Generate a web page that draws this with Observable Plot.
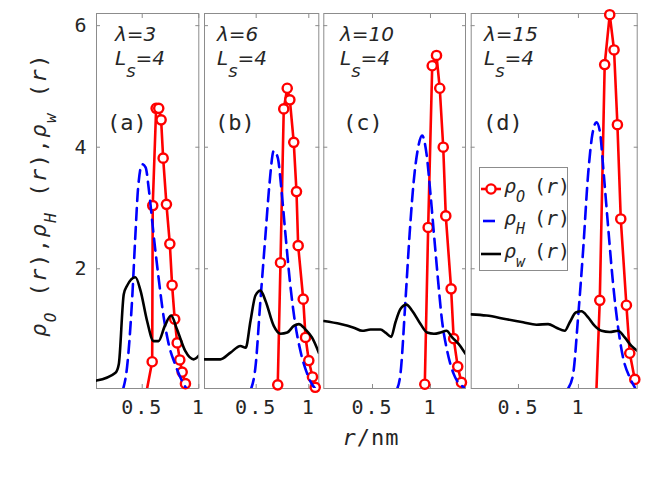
<!DOCTYPE html>
<html><head><meta charset="utf-8">
<script src="https://cdn.jsdelivr.net/npm/d3@7"></script>
<script src="https://cdn.jsdelivr.net/npm/@observablehq/plot@0.6"></script>
<style>
body{margin:0;background:#fff;}
#chart{position:relative;width:656px;height:490px;overflow:hidden;background:#fff;}
#chart svg{position:absolute;left:0;top:0;}
</style></head><body><div id="chart"></div>
<script>
// ---- data ----
const lambdaLabels = ["3", "6", "10", "15"];
const lsLabel = "4";
const panelTags = ["(a)", "(b)", "(c)", "(d)"];
const xTicks = [0.5, 1];
const yTicks = [2, 4, 6];
const yLimits = [0.03, 6.2];
const xLimits = [[0.096, 1.0], [0.009, 1.095], [0.08, 1.302], [0.106, 1.49]];

const rhoO_a = [[0.54,0],[0.588,0.47],[0.593,3.04],[0.623,4.64],[0.646,4.64],[0.667,4.45],[0.685,3.82],[0.714,3.06],[0.744,2.41],[0.764,1.73],[0.787,1.17],[0.809,0.78],[0.832,0.50],[0.853,0.30],[0.882,0.11]];
const rhoH_a = [[0.328,0],[0.366,0.38],[0.41,1.47],[0.44,2.57],[0.464,3.34],[0.5,3.72],[0.53,3.67],[0.56,3.28],[0.60,2.57],[0.644,1.86],[0.69,1.2],[0.734,0.76],[0.79,0.43],[0.85,0.16],[0.89,0.03]];
const rhoW_a = [[0.096,0.16],[0.264,0.29],[0.293,0.43],[0.337,1.58],[0.366,1.72],[0.44,1.86],[0.485,1.64],[0.543,1.14],[0.60,0.81],[0.644,0.81],[0.70,1.06],[0.755,1.23],[0.808,1.0],[0.88,0.65],[0.955,0.51],[1.0,0.57]];

const rhoO_b = [[0.705,0.09],[0.731,2.10],[0.762,4.63],[0.795,4.97],[0.82,4.78],[0.857,4.08],[0.883,3.27],[0.899,2.38],[0.947,1.50],[0.969,0.87],[1.0,0.49],[1.035,0.22],[1.061,0.05]];
const rhoH_b = [[0.446,0],[0.493,0.38],[0.54,1.47],[0.589,2.57],[0.626,3.39],[0.667,3.94],[0.705,3.83],[0.738,3.34],[0.778,2.57],[0.82,1.8],[0.867,1.14],[0.92,0.65],[0.985,0.27],[1.03,0.1],[1.06,0.03]];
const rhoW_b = [[0.009,0.51],[0.16,0.51],[0.256,0.62],[0.35,0.73],[0.40,0.70],[0.446,1.14],[0.493,1.56],[0.541,1.64],[0.589,1.47],[0.667,1.06],[0.731,0.93],[0.795,0.95],[0.857,1.06],[0.905,1.09],[0.969,1.0],[1.03,0.87],[1.095,0.62]];

const rhoO_c = [[0.951,0.10],[0.98,2.68],[1.015,5.34],[1.052,5.51],[1.08,4.97],[1.11,4.0],[1.132,2.87],[1.178,1.67],[1.2,0.85],[1.235,0.39],[1.267,0.13]];
const rhoH_c = [[0.707,0],[0.741,0.27],[0.784,1.47],[0.82,2.57],[0.856,3.45],[0.894,4.0],[0.928,4.19],[0.966,3.89],[1.0,3.23],[1.03,2.57],[1.063,1.86],[1.1,1.14],[1.144,0.65],[1.2,0.27],[1.287,0.05]];
const rhoW_c = [[0.08,1.14],[0.224,1.09],[0.339,1.03],[0.411,0.98],[0.483,1.0],[0.569,1.0],[0.612,0.95],[0.661,0.88],[0.698,1.12],[0.741,1.34],[0.793,1.41],[0.842,1.31],[0.914,1.09],[0.971,0.95],[1.03,0.93],[1.086,0.95],[1.138,0.98],[1.187,0.87],[1.244,0.76],[1.302,0.6]];

const rhoO_d = [[1.15,0],[1.178,1.48],[1.219,5.36],[1.261,6.18],[1.297,5.6],[1.325,4.37],[1.353,2.82],[1.4,1.40],[1.428,0.61],[1.47,0.18]];
const rhoH_d = [[0.914,0.03],[0.956,0.27],[0.997,1.2],[1.039,2.3],[1.081,3.56],[1.117,4.22],[1.15,4.41],[1.178,4.27],[1.211,3.56],[1.248,2.68],[1.289,1.75],[1.331,1.03],[1.372,0.54],[1.428,0.21],[1.47,0.05]];
const rhoW_d = [[0.106,1.25],[0.233,1.23],[0.4,1.17],[0.539,1.12],[0.65,1.08],[0.747,1.09],[0.817,1.03],[0.886,0.98],[0.928,1.12],[0.978,1.28],[1.025,1.30],[1.081,1.2],[1.136,1.06],[1.192,0.98],[1.261,0.96],[1.331,0.98],[1.386,0.87],[1.442,0.73],[1.49,0.65]];

const seriesO = [rhoO_a, rhoO_b, rhoO_c, rhoO_d];
const seriesH = [rhoH_a, rhoH_b, rhoH_c, rhoH_d];
const seriesW = [rhoW_a, rhoW_b, rhoW_c, rhoW_d];

// ---- layout / style ----
const W = 656, H = 490, TOP = 13, BOTTOM = 388;
const frames = [[96, 198.3], [204, 318.3], [323.3, 465], [470.7, 636.7]];
const lamX = [115, 217, 340, 484];
const tagX = [107, 215, 343, 483];
const MONO = "DejaVu Sans Mono";
const TXT = "#262626";
const AX = "#8c8c8c";
const RED = "#ff0000", BLUE = "#0000ff", BLACK = "#000000";
const px = d => d[0], py = d => d[1];

const root = d3.select("#chart");

frames.forEach(([l, r], i) => {
  const marks = [
    Plot.frame({stroke: AX, strokeWidth: 1}),
    Plot.axisX(xTicks, {anchor: "bottom", tickSize: -4, fill: "none", stroke: AX}),
    Plot.axisX(xTicks, {anchor: "top", tickSize: -4, fill: "none", stroke: AX}),
    Plot.axisY(yTicks, {anchor: "left", tickSize: -4, fill: "none", stroke: AX}),
    Plot.axisY(yTicks, {anchor: "right", tickSize: -4, fill: "none", stroke: AX}),
    Plot.axisX(xTicks, {anchor: "bottom", tickSize: 0, tickPadding: 11, fontSize: 20, label: null, fill: TXT, stroke: "none", tickFormat: d => String(d)}),
    Plot.line(seriesO[i], {x: px, y: py, stroke: RED, strokeWidth: 2.6, clip: true}),
    Plot.dot(seriesO[i].filter(d => d[1] >= yLimits[0]), {x: px, y: py, r: 4.6, stroke: RED, strokeWidth: 2.4, fill: "white"}),
    Plot.line(seriesH[i], {x: px, y: py, stroke: BLUE, strokeWidth: 2.6, strokeDasharray: "12,7", curve: "monotone-x", clip: true}),
    Plot.line(seriesW[i], {x: px, y: py, stroke: BLACK, strokeWidth: 2.6, curve: "monotone-x", clip: true})
  ];
  if (i === 0) marks.push(Plot.axisY(yTicks, {anchor: "left", tickSize: 0, tickPadding: 8, fontSize: 20, label: null, fill: TXT, stroke: "none", tickFormat: d => String(d)}));
  const svg = Plot.plot({
    width: W, height: H,
    marginLeft: l, marginRight: W - r, marginTop: TOP, marginBottom: H - BOTTOM,
    x: {domain: xLimits[i]},
    y: {domain: yLimits},
    style: {background: "transparent", overflow: "visible", fontFamily: MONO, color: TXT, letterSpacing: "2px"},
    marks
  });
  root.node().appendChild(svg);
});

// ---- annotations ----
const ann = root.append("svg").attr("width", W).attr("height", H).style("overflow", "visible");
const SANS = "DejaVu Sans";

frames.forEach((f, i) => {
  ann.append("text").attr("x", lamX[i]).attr("y", 41)
    .attr("font-family", SANS).attr("font-style", "italic").attr("font-size", 20).attr("fill", TXT)
    .text("λ=" + lambdaLabels[i]);
  const t = ann.append("text").attr("x", lamX[i]).attr("y", 65)
    .attr("font-family", SANS).attr("font-style", "italic").attr("font-size", 20).attr("fill", TXT);
  t.append("tspan").text("L");
  t.append("tspan").attr("dy", 12).attr("font-size", 18).text("s");
  t.append("tspan").attr("dy", -12).text("=" + lsLabel);
  ann.append("text").attr("x", tagX[i]).attr("y", 130)
    .attr("font-family", MONO).attr("font-size", 22).attr("fill", TXT)
    .text(panelTags[i]);
});

// y label
const yl = ann.append("text").attr("transform", "translate(46,195) rotate(-90)")
  .attr("text-anchor", "middle").attr("font-family", MONO).attr("font-size", 22)
  .attr("letter-spacing", "1.5px").attr("fill", TXT);
[["O", " (r),"], ["H", " (r),"], ["w", " (r)"]].forEach(([sub, tail]) => {
  yl.append("tspan").attr("font-style", "italic").text("ρ");
  yl.append("tspan").attr("dy", 10).attr("font-size", 16).attr("font-style", "italic").text(sub);
  yl.append("tspan").attr("dy", -10).text(tail.slice(0, 2));
  yl.append("tspan").attr("font-style", "italic").text("r");
  yl.append("tspan").text(tail.slice(3));
});

// x label
const xl = ann.append("text").attr("x", 371).attr("y", 445).attr("text-anchor", "middle")
  .attr("font-family", MONO).attr("font-size", 22).attr("letter-spacing", "1px").attr("fill", TXT);
xl.append("tspan").attr("font-style", "italic").text("r");
xl.append("tspan").text("/nm");

// legend
const lg = ann.append("g");
lg.append("rect").attr("x", 479.5).attr("y", 167.5).attr("width", 88).attr("height", 103)
  .attr("fill", "white").attr("stroke", AX);
const items = [
  {sub: "O", color: RED, dash: null, y: 189},
  {sub: "H", color: BLUE, dash: "12,7", y: 221},
  {sub: "w", color: BLACK, dash: null, y: 254}
];
items.forEach(it => {
  lg.append("line").attr("x1", it.dash ? 483 : 481).attr("x2", it.dash ? 495 : 501)
    .attr("y1", it.y).attr("y2", it.y).attr("stroke", it.color).attr("stroke-width", 2.6);
  if (it.color === RED) lg.append("circle").attr("cx", 491).attr("cy", it.y).attr("r", 4.6)
    .attr("fill", "white").attr("stroke", RED).attr("stroke-width", 2.4);
  const t = lg.append("text").attr("x", 504).attr("y", it.y + 4)
    .attr("font-family", MONO).attr("font-size", 20).attr("fill", TXT);
  t.append("tspan").attr("font-style", "italic").text("ρ");
  t.append("tspan").attr("dy", 9).attr("font-size", 15).attr("font-style", "italic").text(it.sub);
  t.append("tspan").attr("dy", -9).attr("x", 534).text("(");
  t.append("tspan").attr("font-style", "italic").text("r");
  t.append("tspan").text(")");
});
</script></body></html>
